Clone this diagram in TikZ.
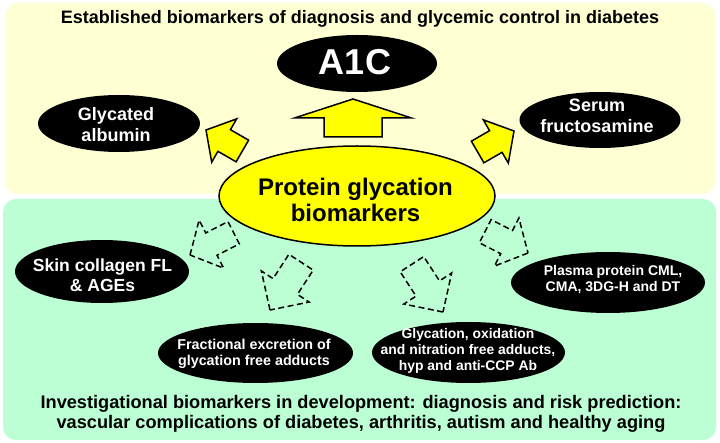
\documentclass[tikz,border=0pt]{standalone}
\usepackage{fontspec}
\setmainfont{Liberation Sans}
\usetikzlibrary{shapes.geometric}
\definecolor{paleyellow}{RGB}{255,255,212}
\definecolor{mint}{RGB}{188,255,213}
\definecolor{brightyellow}{RGB}{255,255,0}
\newcommand\blkarrow[8]{%
  \begin{scope}[shift={(#2,#3)},rotate=#4]
    \draw[#1] (0,0) -- (-#6,#7/2) -- (-#6,#8/2) -- (-#5,#8/2) -- (-#5,-#8/2)
      -- (-#6,-#8/2) -- (-#6,-#7/2) -- cycle;
  \end{scope}}
\tikzset{
  panel/.style={rounded corners=13pt, draw=none},
  blackell/.style={ellipse, fill=black, draw=none, inner sep=0pt},
  wtxt/.style={text=white, align=center, inner sep=0pt, font=\bfseries},
  yarrow/.style={fill=brightyellow, draw=black, line width=1.5pt, line join=miter},
  darrow/.style={draw=black, line width=1.5pt, dash pattern=on 6pt off 3.5pt},
}
\begin{document}
\begin{tikzpicture}[x=1pt,y=-1pt]
\useasboundingbox (0,0) rectangle (720,443);
\fill[white] (0,0) rectangle (720,443);
% panels
\path[panel, fill=paleyellow] (5,3) rectangle (715,194);
\path[panel, fill=mint] (3,199) rectangle (716,440);
% titles
\node[anchor=base, inner sep=0pt, font=\bfseries\fontsize{18}{20}\selectfont] (title) at (360,23.5)
  {Established biomarkers of diagnosis and glycemic control in diabetes};
\node[align=center, inner sep=0pt, font=\bfseries\fontsize{18.2}{20}\selectfont] (bottomtitle) at (361,413.5)
  {Investigational biomarkers in development: diagnosis and risk prediction:\\
   vascular complications of diabetes, arthritis, autism and healthy aging};
% yellow arrows
\blkarrow{yarrow}{353}{99}{90}{38}{19}{117}{58}
\blkarrow{yarrow}{206}{130}{150}{42}{21}{50}{25}
\blkarrow{yarrow}{514}{131}{30}{42}{21}{50}{25}
% dashed arrows
\blkarrow{darrow}{190}{255}{207}{49}{24}{54}{25}
\blkarrow{darrow}{270}{310}{237}{57}{28}{57}{29}
\blkarrow{darrow}{443}{312}{303}{57}{28}{57}{28}
\blkarrow{darrow}{528}{253}{333}{48}{24}{54}{26}
% central ellipse
\node[ellipse, fill=brightyellow, draw=black, line width=1.5pt, minimum width=276pt, minimum height=100pt, inner sep=0pt] (protein) at (357,196) {};
\node[align=center, inner sep=0pt, font=\bfseries\fontsize{24}{26}\selectfont] (proteintxt) at (355.5,200)
  {Protein glycation\\biomarkers};
% black ellipses
\node[blackell, minimum width=160pt, minimum height=57pt] (a1c) at (357,63.5) {};
\node[wtxt, font=\bfseries\fontsize{36}{38}\selectfont] (a1ctxt) at (355,62) {A1C};
\node[blackell, minimum width=162pt, minimum height=57pt] (alb) at (119,123.5) {};
\node[wtxt, font=\bfseries\fontsize{18}{21}\selectfont] (albtxt) at (116,125) {Glycated\\albumin};
\node[blackell, minimum width=161pt, minimum height=56pt] (fru) at (600,120) {};
\node[wtxt, font=\bfseries\fontsize{18}{21}\selectfont] (frutxt) at (597,116) {Serum\\fructosamine};
\node[blackell, minimum width=174pt, minimum height=63pt] (skin) at (102,271.5) {};
\node[wtxt, font=\bfseries\fontsize{17.5}{20}\selectfont] (skintxt) at (102.5,275.5) {Skin collagen FL\\\& AGEs};
\node[blackell, minimum width=195pt, minimum height=60pt] (frac) at (255.5,353) {};
\node[wtxt, font=\bfseries\fontsize{14.3}{16}\selectfont] (fractxt) at (254,353.4) {Fractional excretion of\\glycation free adducts};
\node[blackell, minimum width=193pt, minimum height=61pt] (gox) at (468.5,352.5) {};
\node[wtxt, font=\bfseries\fontsize{13.9}{16}\selectfont] (goxtxt) at (468,350.5) {Glycation, oxidation\\and nitration free adducts,\\hyp and anti-CCP Ab};
\node[blackell, minimum width=194pt, minimum height=61pt] (pla) at (608,282.5) {};
\node[wtxt, font=\bfseries\fontsize{14}{16}\selectfont] (platxt) at (613,280) {Plasma protein CML,\\CMA, 3DG-H and DT};
\end{tikzpicture}
\end{document}
